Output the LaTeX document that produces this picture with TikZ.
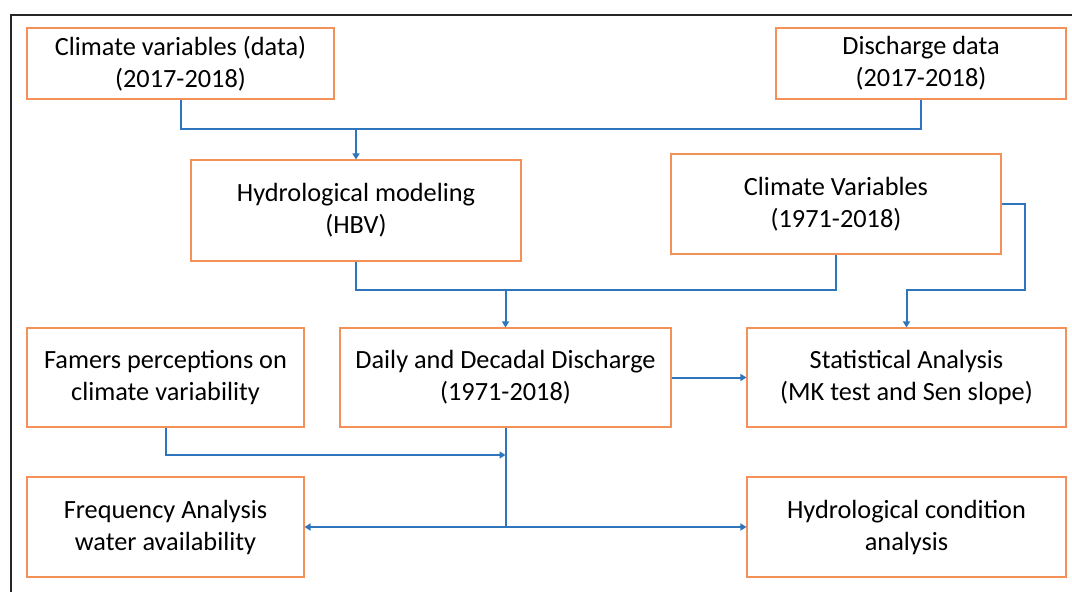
\documentclass[tikz,border=0pt]{standalone}
\usepackage{fontspec}
\setmainfont{Carlito}
\usetikzlibrary{arrows.meta}
\definecolor{boxorange}{RGB}{243,145,88}
\definecolor{lineblue}{RGB}{46,117,190}
\tikzset{
  box/.style={draw=boxorange, line width=1.1pt, rectangle, inner sep=0pt, align=center,
    font=\fontsize{26.3}{32}\selectfont, text=black},
  conn/.style={draw=lineblue, line width=2pt},
  arr/.style={conn, -{Triangle[width=7pt,length=6pt]}},
}
\begin{document}
\begin{tikzpicture}[x=1pt,y=-1pt]
\useasboundingbox (0,0) rectangle (1072,592);
\fill[white] (0,0) rectangle (1072,592);
\draw[line width=2pt, black!85] (11,592) -- (11,15) -- (1072,15);

\node[box, minimum width=307pt, minimum height=71pt] (b1) at (180.5,63.5) {Climate variables (data)\\(2017-2018)};
\node[box, minimum width=290pt, minimum height=71pt] (b2) at (921,63.5) {Discharge data\\(2017-2018)};
\node[box, minimum width=330pt, minimum height=101pt] (b3) at (356,210.5) {Hydrological modeling\\(HBV)};
\node[box, minimum width=330pt, minimum height=100pt] (b4) at (836,204) {Climate Variables\\(1971-2018)};
\node[box, minimum width=277pt, minimum height=99pt] (b5) at (165.5,377.5) {Famers perceptions on\\climate variability};
\node[box, minimum width=331pt, minimum height=99pt] (b6) at (505.5,377.5) {Daily and Decadal Discharge\\(1971-2018)};
\node[box, minimum width=319pt, minimum height=99pt] (b7) at (906.5,377.5) {Statistical Analysis\\(MK test and Sen slope)};
\node[box, minimum width=277pt, minimum height=100pt] (b8) at (165.5,527) {Frequency Analysis\\water availability};
\node[box, minimum width=319pt, minimum height=100pt] (b9) at (906.5,527) {Hydrological condition\\analysis};

\coordinate (j1) at (356,129);
\coordinate (j2) at (505.5,290);
\coordinate (j3) at (1025,290);
\coordinate (j3b) at (906.5,290);
\coordinate (j4) at (505.5,527);
\coordinate (j5) at (505.5,455);

\draw[conn] (b1.south) |- (j1) -| (b2.south);
\draw[arr] (j1) -- (b3.north);
\draw[conn] (b3.south) |- (j2) -| (b4.south);
\draw[arr] (j2) -- (b6.north);
\draw[arr] (b4.east) -| (j3) -- (j3b) -- (b7.north);
\draw[arr] (b6.east) -- (b7.west);
\draw[conn] (b6.south) -- (j4);
\draw[arr] (b5.south) |- (j5);
\draw[arr] (j4) -- (b8.east);
\draw[arr] (j4) -- (b9.west);
\end{tikzpicture}
\end{document}
